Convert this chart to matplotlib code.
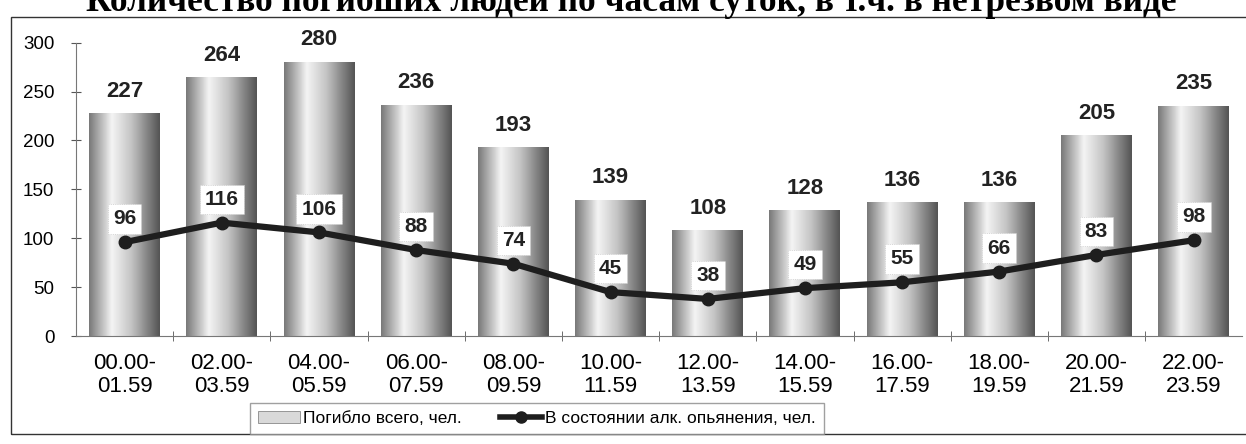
"""Deaths by hour of day, total and drunk."""

import numpy as np
import matplotlib.pyplot as plt
from matplotlib.colors import LinearSegmentedColormap
from matplotlib.lines import Line2D
from matplotlib.patches import Patch, Rectangle

plt.rcParams['font.family'] = ['Liberation Sans', 'DejaVu Sans']

hours = ['00.00-\n01.59', '02.00-\n03.59', '04.00-\n05.59', '06.00-\n07.59',
         '08.00-\n09.59', '10.00-\n11.59', '12.00-\n13.59', '14.00-\n15.59',
         '16.00-\n17.59', '18.00-\n19.59', '20.00-\n21.59', '22.00-\n23.59']
total = [227, 264, 280, 236, 193, 139, 108, 128, 136, 136, 205, 235]
drunk = [96, 116, 106, 88, 74, 45, 38, 49, 55, 66, 83, 98]

title = 'Количество погибших людей по часам суток, в т.ч. в нетрезвом виде'
label_total = 'Погибло всего, чел.'
label_drunk = 'В состоянии алк. опьянения, чел.'

fig = plt.figure(figsize=(12.46, 4.44), dpi=100)
ax = fig.add_axes([0.061, 0.243, 0.936, 0.661])

x = np.arange(len(total))
w = 0.73

# cylinder-like shading
cyl = LinearSegmentedColormap.from_list(
    'cyl', [(0.0, '#7a7a7a'), (0.32, '#f4f4f4'), (0.6, '#c4c4c4'), (1.0, '#555555')])
grad = np.linspace(0, 1, 64).reshape(1, -1)
for xi, h in zip(x, total):
    ax.imshow(grad, cmap=cyl, extent=[xi - w / 2, xi + w / 2, 0, h],
              aspect='auto', zorder=2, interpolation='bicubic')
    ax.text(xi, h + 12, str(h), ha='center', va='bottom', fontsize=16,
            fontweight='bold', color='#222222', zorder=5)

ax.plot(x, drunk, color='#1e1e1e', lw=4.5, marker='o', ms=9, zorder=3)
for xi, v in zip(x, drunk):
    ax.annotate(str(v), (xi, v), xytext=(0, 10), textcoords='offset points',
                ha='center', va='bottom', fontsize=15, fontweight='bold', color='#222222',
                zorder=6,
                bbox=dict(boxstyle='square,pad=0.25', fc='white', ec='#cccccc', lw=0.6, ls=':'))

ax.set_xlim(-0.5, len(total) - 0.5)
ax.set_ylim(0, 300)
ax.set_yticks(range(0, 301, 50))
ax.set_xticks(x)
ax.set_xticklabels(hours, fontsize=16, linespacing=1.15)
ax.set_xticks(np.arange(0.5, len(total) - 0.5, 1), minor=True)
ax.tick_params(axis='x', which='major', length=0, pad=12)
ax.tick_params(axis='x', which='minor', length=7, direction='inout', color='#555555')
ax.tick_params(axis='y', labelsize=13.5, length=7, direction='inout', color='#555555', pad=12)
ax.spines['top'].set_visible(False)
ax.spines['right'].set_visible(False)
ax.spines['left'].set_color('#777777')
ax.spines['bottom'].set_color('#777777')
ax.patch.set_alpha(0)

handles = [Patch(facecolor='#d9d9d9', edgecolor='#888888', lw=0.6),
           Line2D([0], [0], color='#1e1e1e', lw=4, marker='o', ms=8)]
fig.legend(handles, [label_total, label_drunk], loc='center', bbox_to_anchor=(0.431, 0.058),
           ncol=2, fontsize=12.5, frameon=True, fancybox=False, edgecolor='#888888',
           handlelength=2.4, handletextpad=0.2, columnspacing=2.2, borderpad=0.45)

# outer frame and title cut by the scan edge
fig.patches.append(Rectangle((0.009, 0.022), 1.2, 0.94, transform=fig.transFigure,
                             fill=False, ec='#333333', lw=1.0))
fig.text(0.507, 0.975, title, ha='center', va='baseline', fontsize=25.5,
         fontweight='bold', family='Liberation Serif')

plt.savefig('out.png', dpi=100)
